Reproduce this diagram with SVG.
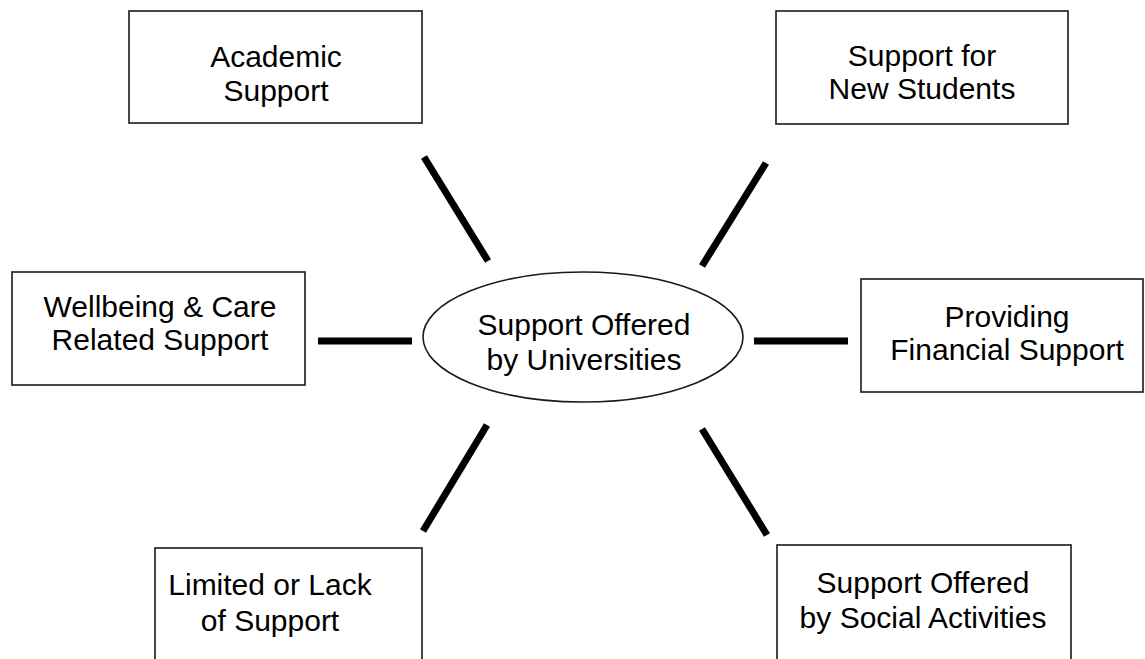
<svg xmlns="http://www.w3.org/2000/svg" width="1145" height="659" viewBox="0 0 1145 659">
  <style>
    .box { fill: #ffffff; stroke: #1a1a1a; stroke-width: 1.6; }
    .hub { fill: #ffffff; stroke: #1a1a1a; stroke-width: 1.6; }
    .label { font-family: "Liberation Sans", "DejaVu Sans", sans-serif; font-size: 30px; fill: #000000; text-anchor: middle; }
    .spoke { stroke: #000000; stroke-width: 7; stroke-linecap: butt; }
  </style>
  <rect x="0" y="0" width="1145" height="659" fill="#ffffff"/>

  <!-- spokes from the central topic to each support area -->
  <g id="connectors">
    <line class="spoke" x1="424" y1="157" x2="488" y2="261"/>
    <line class="spoke" x1="766" y1="163" x2="702" y2="266"/>
    <line class="spoke" x1="318" y1="341" x2="412" y2="341"/>
    <line class="spoke" x1="754" y1="341" x2="848" y2="341"/>
    <line class="spoke" x1="487" y1="425" x2="423" y2="531"/>
    <line class="spoke" x1="702" y1="429" x2="767" y2="535"/>
  </g>

  <g id="hub">
    <ellipse class="hub" cx="583" cy="337" rx="160" ry="65"/>
    <text class="label" x="584" y="335">Support Offered</text>
    <text class="label" x="584" y="370">by Universities</text>
  </g>

  <g id="academic">
    <rect class="box" x="129" y="11" width="293" height="112"/>
    <text class="label" x="276" y="67">Academic</text>
    <text class="label" x="276" y="101">Support</text>
  </g>

  <g id="new-students">
    <rect class="box" x="776" y="11" width="292" height="113"/>
    <text class="label" x="922" y="66">Support for</text>
    <text class="label" x="922" y="99">New Students</text>
  </g>

  <g id="wellbeing">
    <rect class="box" x="12" y="272" width="293" height="113"/>
    <text class="label" x="160" y="317">Wellbeing &amp; Care</text>
    <text class="label" x="160" y="350">Related Support</text>
  </g>

  <g id="financial">
    <rect class="box" x="861" y="279" width="282" height="113"/>
    <text class="label" x="1007" y="327">Providing</text>
    <text class="label" x="1007" y="360">Financial Support</text>
  </g>

  <g id="limited">
    <rect class="box" x="155" y="548" width="267" height="130"/>
    <text class="label" x="270" y="595">Limited or Lack</text>
    <text class="label" x="270" y="631">of Support</text>
  </g>

  <g id="social">
    <rect class="box" x="777" y="545" width="294" height="130"/>
    <text class="label" x="923" y="593">Support Offered</text>
    <text class="label" x="923" y="628">by Social Activities</text>
  </g>
</svg>
